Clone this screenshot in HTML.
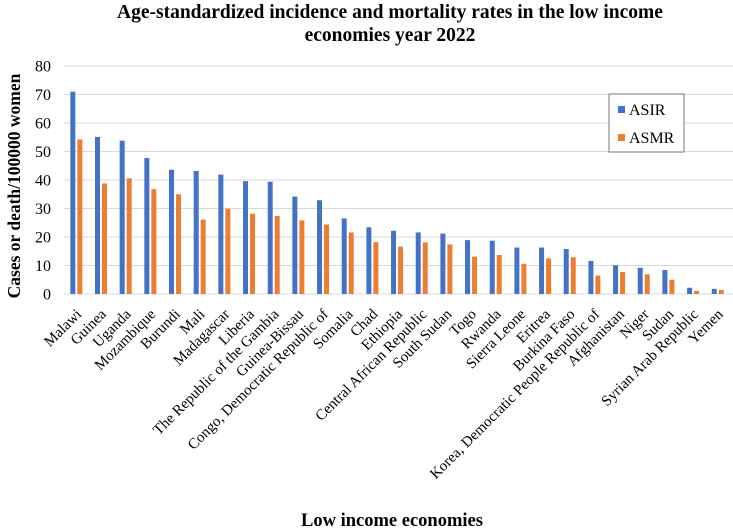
<!DOCTYPE html>
<html><head><meta charset="utf-8"><style>
body{margin:0;background:#fff}
svg{display:block;font-family:"Liberation Serif",serif}
</style></head><body>
<svg id="chart" width="733" height="530" viewBox="0 0 733 530" xmlns="http://www.w3.org/2000/svg">
<text x="390" y="18" text-anchor="middle" font-size="19.5" font-weight="bold">Age-standardized incidence and mortality rates in the low income</text>
<text x="390" y="41" text-anchor="middle" font-size="19.5" font-weight="bold">economies year 2022</text>
<text transform="translate(20,186) rotate(-90)" text-anchor="middle" font-size="17.5" font-weight="bold">Cases or death/100000 women</text>
<text x="392" y="526" text-anchor="middle" font-size="18.5" font-weight="bold">Low income economies</text>
<g id="grid"></g><g id="bars"></g><g id="labels"></g>
<g>
<rect x="609" y="94" width="75" height="58" fill="#fff" stroke="#777" stroke-width="1"/>
<rect x="618" y="106" width="7" height="7" fill="#4472c4"/>
<text x="629" y="115" font-size="16">ASIR</text>
<rect x="618" y="134" width="7" height="7" fill="#ed7d31"/>
<text x="629" y="143" font-size="16">ASMR</text>
</g>
</svg>
<script>
const categories=["Malawi","Guinea","Uganda","Mozambique","Burundi","Mali","Madagascar","Liberia","The Republic of the Gambia","Guinea-Bissau","Congo, Democratic Republic of","Somalia","Chad","Ethiopia","Central African Republic","South Sudan","Togo","Rwanda","Sierra Leone","Eritrea","Burkina Faso","Korea, Democratic People Republic of","Afghanistan","Niger","Sudan","Syrian Arab Republic","Yemen"];
const asir=[71,55.1,53.8,47.7,43.6,43.2,41.9,39.6,39.4,34.2,32.9,26.5,23.4,22.2,21.6,21.2,18.9,18.7,16.3,16.3,15.8,11.6,10.1,9.2,8.4,2.2,1.8];
const asmr=[54.2,38.8,40.6,36.8,35.0,26.1,29.9,28.2,27.4,25.8,24.4,21.6,18.2,16.6,18.1,17.4,13.1,13.7,10.6,12.5,12.9,6.5,7.7,6.9,5.0,1.1,1.4];
const yTicks=[0,10,20,30,40,50,60,70,80];
const NS="http://www.w3.org/2000/svg";
const x0=64,band=24.67,y0=294,yMax=80,plotH=228;
const y=v=>y0-v/yMax*plotH;
const xc=i=>x0+band*(i+0.5);
function mk(t,a){const e=document.createElementNS(NS,t);for(const k in a)e.setAttribute(k,a[k]);return e;}
const grid=document.getElementById('grid'),bars=document.getElementById('bars'),labels=document.getElementById('labels');
yTicks.forEach(t=>{
 const l=mk('line',{x1:x0,x2:733,y1:y(t),y2:y(t),stroke:'#d9d9d9','stroke-width':1});
 
 
 grid.appendChild(l);
 const tx=mk('text',{x:51,y:y(t)+5.5,'text-anchor':'end','font-size':16});
 tx.textContent=t;
 
 
 grid.appendChild(tx);
});
categories.forEach((c,i)=>{
 const cx=xc(i);
 const b1=mk('rect',{x:cx-6,y:y(asir[i]),width:5,height:y0-y(asir[i]),fill:'#4472c4'});
 
 
 bars.appendChild(b1);
 const b2=mk('rect',{x:cx+1,y:y(asmr[i]),width:5,height:y0-y(asmr[i]),fill:'#ed7d31'});
 
 
 bars.appendChild(b2);
 const tx=mk('text',{transform:`translate(${cx+6},${y0+21}) rotate(-45)`,'text-anchor':'end','font-size':15});
 tx.textContent=c;
 
 
 labels.appendChild(tx);
});
</script>
</body></html>
